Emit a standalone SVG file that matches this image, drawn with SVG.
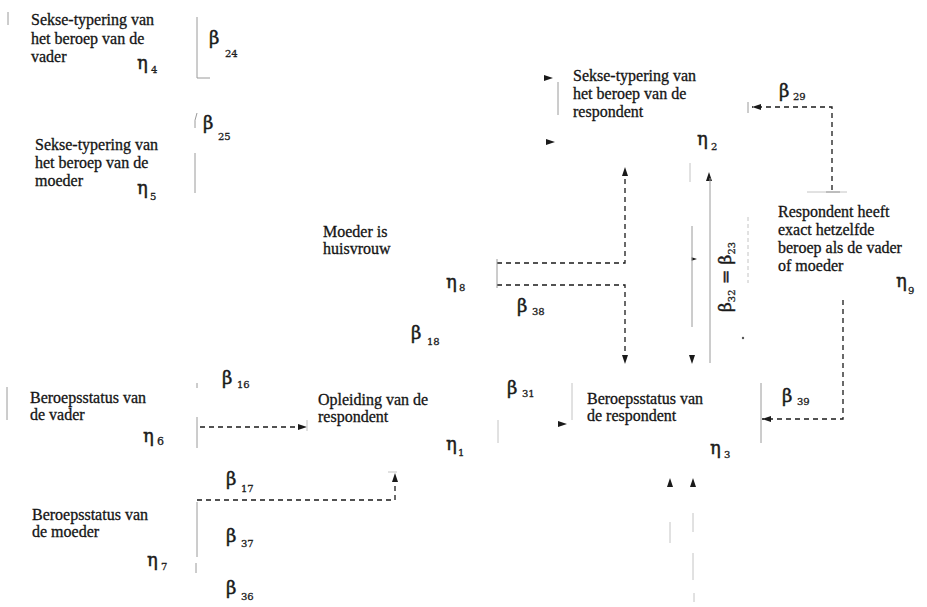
<svg xmlns="http://www.w3.org/2000/svg" xmlns:xlink="http://www.w3.org/1999/xlink" width="927" height="607" viewBox="0 0 927 607">
<style>
.t{font-family:"Liberation Serif","Times New Roman",serif;font-size:16px;fill:#141414;stroke:#141414;stroke-width:0.3}
.g{font-family:"DejaVu Serif","Liberation Serif",serif;font-size:18px;fill:#1a1a1a;stroke:#1a1a1a;stroke-width:0.45}
.e{font-size:18px}
.s{font-size:10px;stroke-width:0.3}
.d{stroke:#1a1a1a;stroke-width:1.3;stroke-dasharray:5 4;fill:none}
.f{stroke:#9a9a9a;stroke-width:1;fill:none}
.ff{stroke:#c4c4c4;stroke-width:1;fill:none}
.ah{fill:#1a1a1a}
</style>
<defs>
<marker id="arr" viewBox="0 0 9 6" refX="9" refY="3" markerWidth="9" markerHeight="6" orient="auto" markerUnits="userSpaceOnUse"><path d="M0,0 L9,3 L0,6 Z" fill="#1a1a1a"/></marker>
<path id="ah" d="M0,0 L-9,-3 L-9,3 Z"/>
</defs>
<rect width="927" height="607" fill="#ffffff"/>

<g id="n4">
<text class="t" x="31" y="25">Sekse-typering van</text>
<text class="t" x="31" y="43.5">het beroep van de</text>
<text class="t" x="31" y="62">vader</text>
<text class="g e" x="137" y="69">η<tspan class="s" x="151" y="73">4</tspan></text>
</g>
<g id="n5">
<text class="t" x="35" y="150">Sekse-typering van</text>
<text class="t" x="35" y="168">het beroep van de</text>
<text class="t" x="35" y="186">moeder</text>
<text class="g e" x="137" y="194">η<tspan class="s" x="150" y="200">5</tspan></text>
</g>
<g id="n2">
<text class="t" x="573" y="81">Sekse-typering van</text>
<text class="t" x="573" y="99">het beroep van de</text>
<text class="t" x="573" y="117">respondent</text>
<text class="g e" x="697" y="145">η<tspan class="s" x="711" y="150">2</tspan></text>
</g>
<g id="n9">
<text class="t" x="778" y="217">Respondent heeft</text>
<text class="t" x="778" y="235">exact hetzelfde</text>
<text class="t" x="778" y="253">beroep als de vader</text>
<text class="t" x="778" y="271">of moeder</text>
<text class="g e" x="896" y="287">η<tspan class="s" x="908" y="294">9</tspan></text>
</g>
<g id="n8">
<text class="t" x="323" y="237">Moeder is</text>
<text class="t" x="323" y="254">huisvrouw</text>
<text class="g e" x="446" y="288">η<tspan class="s" x="459" y="291">8</tspan></text>
</g>
<g id="n6">
<text class="t" x="30" y="403">Beroepsstatus van</text>
<text class="t" x="30" y="420">de vader</text>
<text class="g e" x="143" y="442">η<tspan class="s" x="157" y="445" style="font-size:11px">6</tspan></text>
</g>
<g id="n1">
<text class="t" x="318" y="405">Opleiding van de</text>
<text class="t" x="318" y="422">respondent</text>
<text class="g e" x="446" y="450">η<tspan class="s" x="458" y="456">1</tspan></text>
</g>
<g id="n3">
<text class="t" x="587" y="404">Beroepsstatus van</text>
<text class="t" x="587" y="421">de respondent</text>
<text class="g e" x="710" y="454">η<tspan class="s" x="724" y="458">3</tspan></text>
</g>
<g id="n7">
<text class="t" x="32" y="520">Beroepsstatus van</text>
<text class="t" x="32" y="537">de moeder</text>
<text class="g e" x="147" y="566">η<tspan class="s" x="161" y="570">7</tspan></text>
</g>

<g id="connectors">
<path class="d" d="M832,190 V107 H752" marker-end="url(#arr)"/>
<path class="d" d="M497,263 H625 V167" marker-end="url(#arr)"/>
<path class="d" d="M497,285 H625 V364" marker-end="url(#arr)"/>
<path class="d" d="M200,427 H307" marker-end="url(#arr)"/>
<path class="d" d="M197,500 H395 V473" marker-end="url(#arr)"/>
<path class="d" d="M843,300 V419 H762" marker-end="url(#arr)"/>

<use href="#ah" class="ah" transform="translate(553,78)"/>
<use href="#ah" class="ah" transform="translate(555,142)"/>
<use href="#ah" class="ah" transform="translate(567,424)"/>
<use href="#ah" class="ah" transform="translate(709,172) rotate(-90)"/>
<use href="#ah" class="ah" transform="translate(692,364) rotate(90)"/>
<use href="#ah" class="ah" transform="translate(697,259) scale(0.6)"/>
<use href="#ah" class="ah" transform="translate(670,478) rotate(-90)"/>
<use href="#ah" class="ah" transform="translate(693,478) rotate(-90)"/>

<path class="f" d="M8,12 V25"/>
<path class="f" d="M197,17 V78 H210"/>
<path class="f" d="M197,113 Q194,120 195,128 M195,153 V193"/>
<path class="f" d="M7,387 V420"/>
<path class="f" d="M197,383 V388 M197,417 V448"/>
<path class="f" d="M197,502 V557 M196,563 V573"/>
<path class="f" d="M497,259 V288"/>
<path class="f" d="M558,82 V115"/>
<path class="f" d="M748,102 V113"/>
<path class="ff" d="M807,192 H847"/>
<path class="f" d="M826,192 H840"/>
<path class="ff" d="M690,163 V182"/>
<path class="f" d="M710,178 V363"/>
<path class="f" d="M692,226 V327"/>
<path class="ff" d="M748,217 V283" stroke-dasharray="4 3"/>
<path class="ff" d="M572,383 V420"/>
<path class="ff" d="M498,420 V443"/>
<path class="f" d="M761,383 V443"/>
<path class="ff" d="M307,420 V431"/>
<path class="ff" d="M388,472 H397"/>
<path class="ff" d="M670,522 V543 M693,513 V532 M693,553 V580 M694,593 V602"/>
<circle cx="743" cy="338" r="1.2" fill="#555"/>
</g>

<g id="labels">
<text class="g" x="209" y="44">β<tspan class="s" x="225" y="57">24</tspan></text>
<text class="g" x="203" y="129">β<tspan class="s" x="218" y="140">25</tspan></text>
<text class="g" x="779" y="97">β<tspan class="s" x="793" y="100">29</tspan></text>
<text class="g" x="517" y="312">β<tspan class="s" x="532" y="315">38</tspan></text>
<text class="g" x="411" y="339">β<tspan class="s" x="427" y="345">18</tspan></text>
<text class="g" x="507" y="394">β<tspan class="s" x="522" y="397">31</tspan></text>
<text class="g" x="222" y="384">β<tspan class="s" x="237" y="388">16</tspan></text>
<text class="g" x="226" y="485">β<tspan class="s" x="241" y="492">17</tspan></text>
<text class="g" x="226" y="542">β<tspan class="s" x="241" y="547">37</tspan></text>
<text class="g" x="226" y="594">β<tspan class="s" x="241" y="600">36</tspan></text>
<text class="g" x="782" y="402">β<tspan class="s" x="797" y="405">39</tspan></text>
<text class="g" style="font-size:17px" transform="translate(731,312) rotate(-90)">β<tspan class="s" dy="4">32</tspan><tspan dy="-4"> = β</tspan><tspan class="s" dy="4">23</tspan></text>
</g>
</svg>
